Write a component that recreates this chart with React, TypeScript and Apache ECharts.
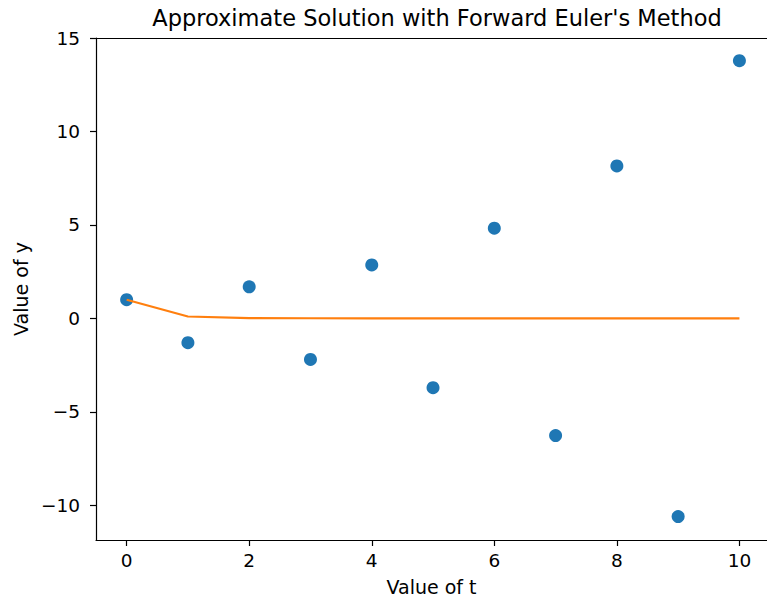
import React, { useEffect, useRef } from "react";
import * as echarts from "echarts";

const tValues = [0, 1, 2, 3, 4, 5, 6, 7, 8, 9, 10];
const eulerValues = [1, -1.3, 1.69, -2.197, 2.856, -3.713, 4.827, -6.275, 8.157, -10.604, 13.786];
const exactValues = [1, 0.1003, 0.0101, 0.001, 0.0001, 0.00001, 0, 0, 0, 0, 0];
const xTicks = [0, 2, 4, 6, 8, 10];
const yTicks = [-10, -5, 0, 5, 10, 15];

const FONT = "DejaVu Sans";

export default function App() {
  const ref = useRef<HTMLDivElement>(null);
  useEffect(() => {
    if (!ref.current) return;
    const chart = echarts.init(ref.current, undefined, { renderer: "svg" });
    const fmt = (v: number) => (v < 0 ? "\u2212" + Math.abs(v) : String(v));
    const X_MIN = -0.5;
    const X_MAX = 10.45;
    chart.setOption({
      animation: false,
      backgroundColor: "#ffffff",
      title: {
        text: "Approximate Solution with Forward Euler's Method",
        left: 432,
        top: 1,
        textAlign: "center",
        textStyle: { fontFamily: FONT, fontSize: 22.5, fontWeight: "normal", color: "#000" },
      },
      grid: { left: 96, top: 38, right: 0, bottom: 61, show: false },
      xAxis: [
        {
          type: "value",
          min: X_MIN,
          max: X_MAX,
          name: "Value of t",
          nameLocation: "middle",
          nameGap: 37,
          nameTextStyle: { fontFamily: FONT, fontSize: 19, color: "#000" },
          splitLine: { show: false },
          axisLine: { show: true, onZero: false, lineStyle: { color: "#000", width: 1.2 } },
          axisTick: { show: true, length: 6, lineStyle: { color: "#000", width: 1.2 }, customValues: xTicks },
          axisLabel: { fontFamily: FONT, fontSize: 18.5, color: "#000", margin: 11, customValues: xTicks, formatter: fmt },
        },
        {
          type: "value",
          position: "top",
          min: X_MIN,
          max: X_MAX,
          splitLine: { show: false },
          axisLine: { show: true, onZero: false, lineStyle: { color: "#000", width: 1.2 } },
          axisTick: { show: false },
          axisLabel: { show: false },
        },
      ],
      yAxis: {
        type: "value",
        min: -11.86,
        max: 15.0,
        name: "Value of y",
        nameLocation: "middle",
        nameGap: 63,
        nameRotate: 90,
        nameTextStyle: { fontFamily: FONT, fontSize: 19, color: "#000" },
        splitLine: { show: false },
        axisLine: { show: true, onZero: false, lineStyle: { color: "#000", width: 1.2 } },
        axisTick: { show: true, length: 6, lineStyle: { color: "#000", width: 1.2 }, customValues: yTicks },
        axisLabel: { fontFamily: FONT, fontSize: 18.5, color: "#000", margin: 16, customValues: yTicks, formatter: fmt },
      },
      series: [
        {
          type: "scatter",
          xAxisIndex: 0,
          data: tValues.map((t, i) => [t, eulerValues[i]]),
          symbolSize: 13,
          itemStyle: { color: "#1f77b4", opacity: 1 },
          z: 2,
        },
        {
          type: "line",
          xAxisIndex: 0,
          data: tValues.map((t, i) => [t, exactValues[i]]),
          showSymbol: false,
          lineStyle: { color: "#ff7f0e", width: 2.1 },
          itemStyle: { color: "#ff7f0e" },
          z: 3,
        },
      ],
    });
    return () => chart.dispose();
  }, []);
  return (
    <div
      ref={ref}
      style={{ position: "fixed", left: 0, top: 0, width: 767, height: 601, background: "#fff" }}
    />
  );
}
